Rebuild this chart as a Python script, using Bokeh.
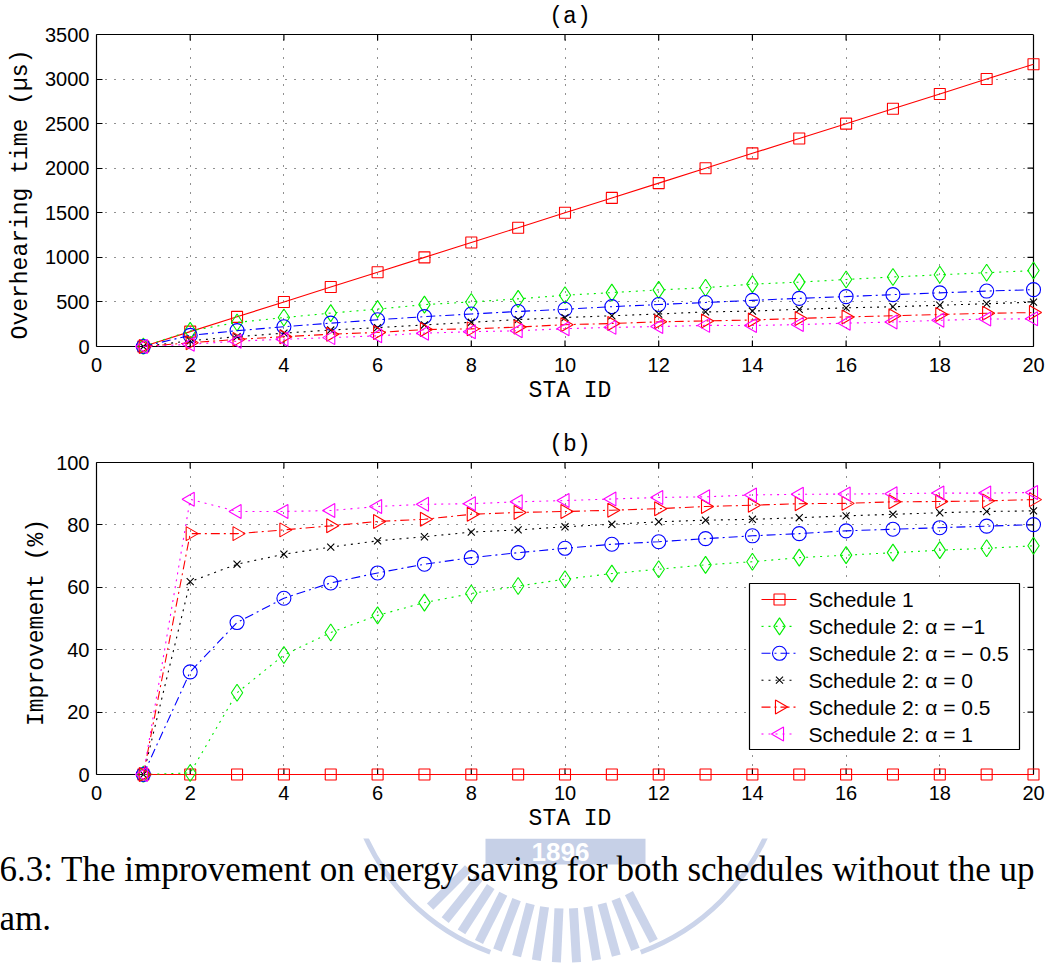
import math

from bokeh.plotting import figure
from bokeh.models import Range1d, LinearAxis, FixedTicker, ColumnDataSource
from bokeh.layouts import column
from bokeh.embed import file_html
from bokeh.resources import INLINE
from bokeh.core.properties import value

# ---------------------------------------------------------------- data
sta_id = list(range(1, 21))
x_ticks = [0, 2, 4, 6, 8, 10, 12, 14, 16, 18, 20]

# (a) overhearing time, microseconds
over_s1 = [0, 167, 333, 500, 667, 833, 1000, 1167, 1333, 1500,
           1667, 1833, 2000, 2167, 2333, 2500, 2667, 2833, 3000, 3167]
over_am1 = [0, 175, 270, 325, 375, 420, 470, 500, 535, 575,
            605, 635, 660, 700, 722, 752, 780, 805, 828, 852]
over_am05 = [0, 125, 178, 222, 262, 300, 335, 365, 393, 418,
             447, 471, 494, 518, 540, 560, 582, 602, 622, 638]
over_a0 = [0, 65, 110, 150, 185, 212, 242, 272, 302, 325,
           345, 365, 388, 398, 417, 434, 446, 463, 480, 498]
over_a05 = [0, 42, 80, 110, 138, 158, 190, 198, 218, 245,
            258, 277, 287, 298, 315, 332, 345, 360, 373, 381]
over_a1 = [0, 25, 60, 82, 100, 120, 150, 166, 177, 200,
           215, 224, 237, 236, 246, 262, 275, 294, 308, 311]
over_ticks = [0, 500, 1000, 1500, 2000, 2500, 3000, 3500]

# (b) improvement, percent
imp_s1 = [0, 0, 0, 0, 0, 0, 0, 0, 0, 0, 0, 0, 0, 0, 0, 0, 0, 0, 0, 0]
imp_am1 = [0, 0.5, 26.2, 38.3, 45.5, 51.0, 55.1, 58.0, 60.4, 62.6,
           64.4, 65.8, 67.2, 68.2, 69.5, 70.3, 71.1, 71.9, 72.5, 73.3]
imp_am05 = [0, 32.9, 48.7, 56.5, 61.4, 64.6, 67.4, 69.5, 71.1, 72.5,
            73.8, 74.6, 75.6, 76.5, 77.2, 78.1, 78.6, 79.1, 79.6, 80.1]
imp_a0 = [0, 61.8, 67.4, 70.6, 72.9, 74.9, 76.2, 77.7, 78.4, 79.4,
          80.2, 81.0, 81.5, 81.8, 82.3, 82.9, 83.4, 83.9, 84.3, 84.5]
imp_a05 = [0, 77.2, 77.2, 78.4, 79.7, 81.1, 81.8, 83.4, 84.0, 84.3,
           84.7, 85.2, 85.9, 86.3, 86.8, 86.9, 87.4, 87.5, 87.7, 88.1]
imp_a1 = [0, 88.2, 84.3, 84.3, 84.6, 85.9, 86.6, 86.8, 87.4, 87.8,
          88.3, 88.8, 89.0, 89.6, 89.8, 89.9, 90.0, 90.2, 90.2, 90.4]
imp_ticks = [0, 20, 40, 60, 80, 100]

series_labels = ["Schedule 1",
                 "Schedule 2: \u03b1 = \u22121",
                 "Schedule 2: \u03b1 = \u2212 0.5",
                 "Schedule 2: \u03b1 = 0",
                 "Schedule 2: \u03b1 = 0.5",
                 "Schedule 2: \u03b1 = 1"]

caption_lines = ["6.3:  The improvement on energy saving for both schedules without the up",
                 "am."]

# ---------------------------------------------------------------- styles
STYLES = [  # colour, dash, marker, size, angle
    ("#ff0000", "solid", "square", 11, 0.0),
    ("#00ee00", "2 5", "diamond", 17, 0.0),
    ("#0000ff", "9 4 2 4", "circle", 14, 0.0),
    ("#000000", "2 5", "x", 10, 0.0),
    ("#ff0000", "9 4 2 4", "triangle", 14, -math.pi / 2),
    ("#ff00ff", "2 5", "triangle", 14, math.pi / 2),
]

FIG_W = 1054
BOX_L, BOX_R = 96, 1033
PAD_R = 10        # frame room right of the box so edge markers stay whole
PAD_B = 8         # frame room below the box for the same reason
TICK_LEN = 6
INK = "black"
TICK_FONT = "Liberation Sans"
MONO_FONT = "Liberation Mono"

A_H = 420                      # canvas heights of the two panels
B_H = 418


def style_axis(ax):
    ax.major_tick_in = TICK_LEN
    ax.major_tick_out = 0
    ax.minor_tick_line_color = None
    ax.axis_line_color = INK
    ax.axis_line_width = 1.2
    ax.major_tick_line_color = INK
    ax.major_tick_line_width = 1.2
    ax.major_label_text_font = TICK_FONT
    ax.major_label_text_font_size = "20px"
    ax.major_label_text_color = INK
    ax.axis_label_text_font = MONO_FONT
    ax.axis_label_text_font_size = "23px"
    ax.axis_label_text_font_style = "normal"
    ax.axis_label_text_color = INK


def build_panel(fig_h, box_top, box_bottom, y_ticks, series, title,
                y_label, y_label_standoff):
    x_max = x_ticks[-1]
    y_max = y_ticks[-1]
    box_w = BOX_R - BOX_L
    box_h = box_bottom - box_top
    ux = x_max / box_w          # data units per pixel
    uy = y_max / box_h
    p = figure(width=FIG_W, height=fig_h, title=None,
               x_range=Range1d(0, x_max + PAD_R * ux),
               y_range=Range1d(-PAD_B * uy, y_max),
               min_border_left=BOX_L, min_border_right=FIG_W - BOX_R - PAD_R,
               min_border_top=box_top,
               min_border_bottom=fig_h - box_bottom - PAD_B,
               output_backend="svg", toolbar_location=None, tools="")
    p.outline_line_color = None
    p.background_fill_color = "white"
    p.border_fill_color = "white"

    xt = FixedTicker(ticks=x_ticks)
    yt = FixedTicker(ticks=y_ticks)

    # x tick labels and axis title; the box line itself is drawn below
    xa = p.xaxis[0]
    xa.ticker = xt
    style_axis(xa)
    xa.axis_line_color = None
    xa.major_tick_line_color = None
    xa.major_label_standoff = 3
    xa.axis_label = "STA ID"
    xa.axis_label_standoff = 3

    ya = p.yaxis[0]
    ya.ticker = yt
    ya.bounds = (0, y_max)
    style_axis(ya)
    ya.major_label_standoff = 7
    ya.axis_label = y_label
    ya.axis_label_standoff = y_label_standoff

    top = LinearAxis(ticker=FixedTicker(ticks=[]), bounds=(0, x_max))
    style_axis(top)
    top.axis_label = title
    top.axis_label_standoff = 5
    top.major_label_standoff = 0
    p.add_layout(top, "above")

    p.xgrid.ticker = xt
    p.ygrid.ticker = yt
    for g in (p.xgrid[0], p.ygrid[0]):
        g.grid_line_color = "#222222"
        g.grid_line_width = 1.1
        g.grid_line_dash = "1 8"
    try:
        p.xgrid[0].cross_bounds = (0, y_max)
        p.ygrid[0].cross_bounds = (0, x_max)
    except AttributeError:
        p.xgrid.visible = False
        p.ygrid.visible = False
        p.segment(x0=x_ticks, x1=x_ticks, y0=[0] * len(x_ticks),
                  y1=[y_max] * len(x_ticks), line_color="#222222",
                  line_width=1.1, line_dash="1 8")
        p.segment(x0=[0] * len(y_ticks), x1=[x_max] * len(y_ticks),
                  y0=y_ticks, y1=y_ticks, line_color="#222222",
                  line_width=1.1, line_dash="1 8")

    # bottom and right edges of the box, with inward ticks on three sides
    p.segment(x0=[0, x_max], y0=[0, 0], x1=[x_max, x_max], y1=[0, y_max],
              line_color=INK, line_width=1.2)
    tx = x_ticks[1:-1]
    p.segment(x0=tx, x1=tx, y0=[0] * len(tx), y1=[TICK_LEN * uy] * len(tx),
              line_color=INK, line_width=1.2)
    p.segment(x0=tx, x1=tx, y0=[y_max] * len(tx),
              y1=[y_max - TICK_LEN * uy] * len(tx),
              line_color=INK, line_width=1.2)
    ty = y_ticks[1:-1]
    p.segment(x0=[x_max] * len(ty), x1=[x_max - TICK_LEN * ux] * len(ty),
              y0=ty, y1=ty, line_color=INK, line_width=1.2)

    for ys, (color, dash, marker, size, angle) in zip(series, STYLES):
        src = ColumnDataSource(dict(x=sta_id, y=ys))
        p.line("x", "y", source=src, line_color=color, line_width=1.1,
               line_dash=dash)
        p.scatter("x", "y", source=src, marker=marker, size=size,
                  angle=angle, line_color=color, fill_color=None,
                  line_width=1.1)
    return p, ux, uy


# ---------------------------------------------------------------- panel (a)
pa, _, _ = build_panel(A_H, 33, 346, over_ticks,
                       [over_s1, over_am1, over_am05, over_a0, over_a05, over_a1],
                       "(a)", "Overhearing time (\u00b5s)", 8)

# ---------------------------------------------------------------- panel (b)
B_TOP, B_BOTTOM = 42, 354          # box edges inside the (b) canvas
pb, bux, buy = build_panel(B_H, B_TOP, B_BOTTOM, imp_ticks,
                           [imp_s1, imp_am1, imp_am05, imp_a0, imp_a05, imp_a1],
                           "(b)", "Improvement (%)", 3)


def bx(px):
    """canvas x pixel of panel (b) -> data x"""
    return (px - BOX_L) * bux


def by(py):
    """canvas y pixel of panel (b) -> data y"""
    return (B_BOTTOM - py) * buy


# legend box, drawn with the same glyph styles as the series
LEG_L, LEG_R, LEG_T, LEG_B = 749, 1019, 163, 329
ROW0, ROW_STEP = 179, 26.9
SAMPLE_L, SAMPLE_R, TEXT_X = 761, 796, 808
pb.quad(left=[bx(LEG_L)], right=[bx(LEG_R)], top=[by(LEG_T)],
        bottom=[by(LEG_B)], fill_color="white", line_color=INK,
        line_width=1.2)
for i, (lab, (color, dash, marker, size, angle)) in enumerate(zip(series_labels, STYLES)):
    ry = by(ROW0 + i * ROW_STEP)
    pb.line(x=[bx(SAMPLE_L), bx(SAMPLE_R)], y=[ry, ry], line_color=color,
            line_width=1.1, line_dash=dash)
    pb.scatter(x=[bx((SAMPLE_L + SAMPLE_R) / 2 + 0.5)], y=[ry], marker=marker,
               size=size, angle=angle, line_color=color, fill_color=None,
               line_width=1.1)
    pb.text(x=[bx(TEXT_X)], y=[ry], text=[lab], text_font=value(TICK_FONT),
            text_font_size=value("21px"), text_color=INK,
            text_align="left", text_baseline="middle")

top_block = column(pa, pb, spacing=0)

# ---------------------------------------------------------------- caption strip
PAGE_H = 965
CAP_TOP = A_H + B_H
CAP_H = PAGE_H - CAP_TOP
cap = figure(width=FIG_W, height=CAP_H, title=None,
             x_range=Range1d(0, FIG_W), y_range=Range1d(0, CAP_H),
             min_border_left=0, min_border_right=0, min_border_top=0,
             min_border_bottom=0, x_axis_type=None, y_axis_type=None,
             output_backend="svg", toolbar_location=None, tools="")
cap.outline_line_color = None
cap.xgrid.visible = False
cap.ygrid.visible = False
cap.background_fill_color = "white"
cap.border_fill_color = "white"


def cy(page_y):
    """page y pixel -> caption strip data y"""
    return PAGE_H - page_y


SEAL = "#cbd4ea"
# faint university seal behind the caption
ray_angles = [3.93 + i * 0.105 for i in range(13)]
rx0 = [565 + 138 * math.cos(a) for a in ray_angles]
ry0 = [cy(770) + 138 * math.sin(a) for a in ray_angles]
rx1 = [565 + 192 * math.cos(a) for a in ray_angles]
ry1 = [cy(770) + 192 * math.sin(a) for a in ray_angles]
cap.segment(x0=rx0, y0=ry0, x1=rx1, y1=ry1, line_color=SEAL, line_width=9)
cap.arc(x=[565, 565], y=[cy(745), cy(745)], radius=[220, 220],
        start_angle=[math.radians(200), math.radians(290)],
        end_angle=[math.radians(250), math.radians(340)],
        line_color=SEAL, line_width=5)
cap.rect(x=[565], y=[cy(851)], width=[160], height=[26],
         fill_color="#c6d0e7", line_color=None)
cap.text(x=[560], y=[cy(851)], text=["1896"], text_color="white",
         text_font=value("Liberation Sans"), text_font_size=value("26px"),
         text_font_style="bold", text_align="center", text_baseline="middle")

cap.text(x=[-1, -1], y=[cy(869), cy(918)], text=caption_lines,
         text_font=value("Liberation Serif"), text_font_size=value("35px"),
         text_color=INK, text_align="left", text_baseline="middle")

with open("out.html", "w") as f:
    f.write(file_html([top_block, cap], INLINE))
